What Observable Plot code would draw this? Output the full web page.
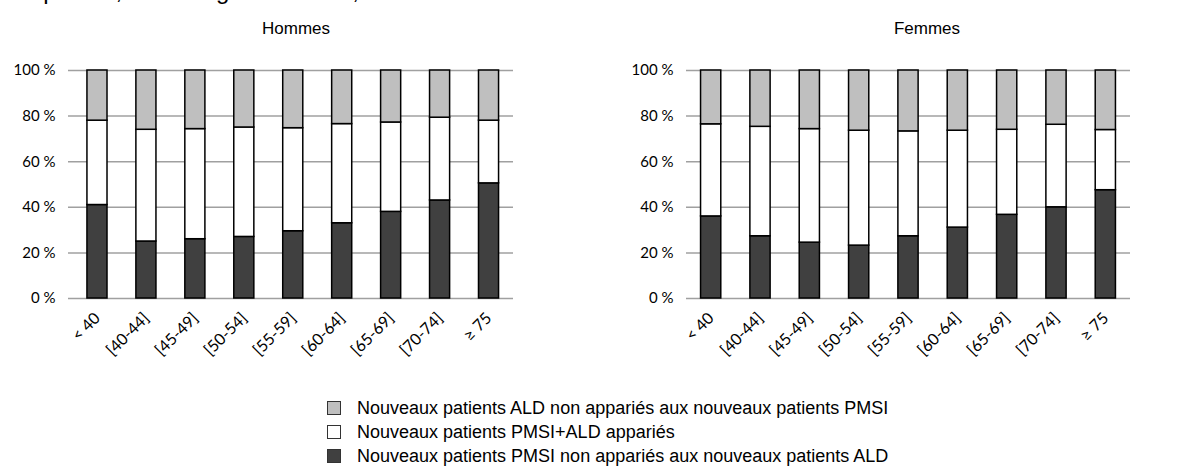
<!DOCTYPE html>
<html>
<head>
<meta charset="utf-8">
<script src="https://cdn.jsdelivr.net/npm/d3@7"></script>
<script src="https://cdn.jsdelivr.net/npm/@observablehq/plot@0.6"></script>
<style>
  html, body { margin: 0; padding: 0; background: #fff; width: 1195px; height: 473px; overflow: hidden; position: relative; }
  .abs { position: absolute; }
  .toptitle { font-family: "Liberation Sans", Arial, sans-serif; font-size: 24px; line-height: 26px; white-space: nowrap; color: #000; }
  .ptitle { font-family: "Liberation Sans", Arial, sans-serif; font-size: 17px; color: #000; transform: translateX(-50%); white-space: nowrap; }
  .legend { font-family: "Liberation Sans", Arial, sans-serif; font-size: 18px; color: #000; }
  .legend .row { display: flex; align-items: center; height: 24px; }
  .legend .sw { width: 12px; height: 12px; border: 1px solid #333; margin-right: 16px; box-sizing: content-box; }
</style>
</head>
<body>
<div id="root"></div>
<script>
// ---- Data ----
const ages = ["< 40", "[40-44]", "[45-49]", "[50-54]", "[55-59]", "[60-64]", "[65-69]", "[70-74]", "≥ 75"];
const seriesNames = [
  "Nouveaux patients PMSI non appariés aux nouveaux patients ALD",
  "Nouveaux patients PMSI+ALD appariés",
  "Nouveaux patients ALD non appariés aux nouveaux patients PMSI"
];
const legendOrder = [2, 1, 0];
const seriesColors = ["#404040", "#ffffff", "#bfbfbf"];
const yTicks = [0, 20, 40, 60, 80, 100];
const panelTitles = ["Hommes", "Femmes"];
const topTitle = "au patient, selon l'âge et le sexe, France 2009";

// Hommes (%)
const hommesPmsi = [41, 25, 26, 27, 29.5, 33, 38, 43, 50.5];
const hommesApparies = [37, 49, 48.3, 48, 45.2, 43.5, 39.2, 36.3, 27.5];
const hommesAld = [22, 26, 25.7, 25, 25.3, 23.5, 22.8, 20.7, 22];
// Femmes (%)
const femmesPmsi = [36, 27.3, 24.5, 23.2, 27.3, 31.1, 36.7, 40, 47.5];
const femmesApparies = [40.4, 48, 49.8, 50.4, 46, 42.5, 37.3, 36.2, 26.4];
const femmesAld = [23.6, 24.7, 25.7, 26.4, 26.7, 26.4, 26, 23.8, 26.1];

function rowsFrom(pmsi, app, ald) {
  const rows = [];
  ages.forEach((a, i) => {
    rows.push({age: a, serie: seriesNames[0], v: pmsi[i]});
    rows.push({age: a, serie: seriesNames[1], v: app[i]});
    rows.push({age: a, serie: seriesNames[2], v: ald[i]});
  });
  return rows;
}

function chart(rows, width, ml, mr, inset) {
  return Plot.plot({
    width, height: 318,
    marginTop: 30, marginBottom: 60, marginLeft: ml, marginRight: mr,
    style: {fontFamily: "Lato, 'Open Sans', sans-serif", fontSize: "15px", color: "#000", background: "transparent", overflow: "visible"},
    x: {domain: ages, paddingInner: 0.59, paddingOuter: 0.295, round: false, insetLeft: inset, label: null, tickSize: 0, tickRotate: -45, tickPadding: 17},
    y: {domain: [0, 100], ticks: yTicks, tickFormat: d => d + " %", label: null, tickSize: 0, tickPadding: 13},
    color: {domain: seriesNames, range: seriesColors},
    marks: [
      Plot.ruleY(yTicks, {stroke: "#a0a0a0", strokeWidth: 1.5}),
      Plot.barY(rows, {x: "age", y: "v", fill: "serie", stroke: "#000", strokeWidth: 1.5})
    ]
  });
}

const root = document.getElementById("root");

const tt = document.createElement("div");
tt.className = "abs toptitle";
tt.style.left = "10px"; tt.style.top = "-22px";
tt.textContent = topTitle;
root.appendChild(tt);

function place(svg, left) {
  svg.style.position = "absolute"; svg.style.left = left + "px"; svg.style.top = "40px";
  svg.querySelectorAll('g[aria-label="x-axis tick label"] text, g[aria-label="x-axis"] text').forEach(t => t.setAttribute("font-size", "16"));
  root.appendChild(svg);
}
place(chart(rowsFrom(hommesPmsi, hommesApparies, hommesAld), 598, 68, 85, 4.5), 0);
place(chart(rowsFrom(femmesPmsi, femmesApparies, femmesAld), 597, 88, 65, 0), 598);

[[panelTitles[0], 296], [panelTitles[1], 927]].forEach(([t, x]) => {
  const d = document.createElement("div");
  d.className = "abs ptitle";
  d.style.left = x + "px"; d.style.top = "19px";
  d.textContent = t;
  root.appendChild(d);
});

const lg = document.createElement("div");
lg.className = "abs legend";
lg.style.left = "327px"; lg.style.top = "396px";
legendOrder.forEach(i => {
  const r = document.createElement("div"); r.className = "row";
  const s = document.createElement("div"); s.className = "sw"; s.style.background = seriesColors[i];
  const t = document.createElement("span"); t.textContent = seriesNames[i];
  r.appendChild(s); r.appendChild(t); lg.appendChild(r);
});
root.appendChild(lg);
</script>
</body>
</html>
